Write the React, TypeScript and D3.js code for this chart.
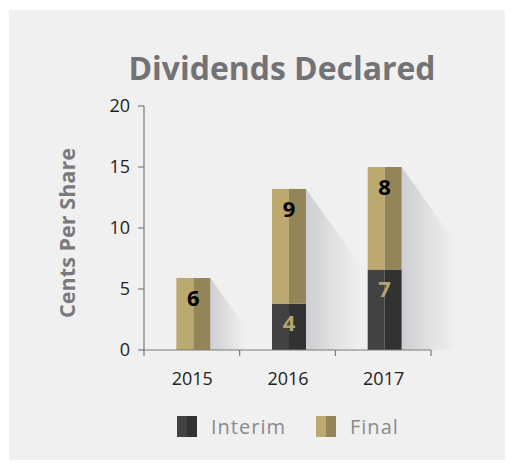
import React, { useRef, useEffect } from 'react';
import * as d3 from 'd3';

const years = ['2015', '2016', '2017'];
const interim = [0, 3.8, 6.6];
const final = [5.9, 9.4, 8.4];
const yTicks = [0, 5, 10, 15, 20];
const seriesNames = ['Interim', 'Final'];

const colors = {
  Interim: { light: '#424244', dark: '#323232', label: '#b6a46d' },
  Final: { light: '#bca96f', dark: '#948559', label: '#000000' },
};

const App = () => {
  const svgRef = useRef<SVGSVGElement>(null);

  useEffect(() => {
    const W = 514;
    const H = 468;
    const svg = d3.select(svgRef.current).attr('width', W).attr('height', H);
    svg.selectAll('*').remove();

    const bg = '#f0f0f0';
    svg.append('rect').attr('x', 9).attr('y', 10).attr('width', 496).attr('height', 450).attr('fill', bg);

    const defs = svg.append('defs');
    const grad = defs.append('linearGradient').attr('id', 'shadow-grad')
      .attr('x1', '0%').attr('x2', '100%').attr('y1', '0%').attr('y2', '0%');
    grad.append('stop').attr('offset', '0%').attr('stop-color', '#cdced1');
    grad.append('stop').attr('offset', '55%').attr('stop-color', '#e3e3e5');
    grad.append('stop').attr('offset', '100%').attr('stop-color', bg);

    const x = d3.scaleBand().domain(years).range([144, 431]).padding(0);
    const y = d3.scaleLinear().domain([0, 20]).range([350, 106]);
    const barW = x.bandwidth() * 0.355;
    const barX = (yr: string) => (x(yr) as number) + x.bandwidth() / 2 - barW / 2 + 1.5;

    const rows = years.map((yr, i) => ({ year: yr, Interim: interim[i], Final: final[i] }));
    const stacked = d3.stack<any>().keys(seriesNames)(rows);

    const font = "'Open Sans', 'Noto Sans', sans-serif";

    // shadows
    const shadowLen = 56;
    const slope = 1.4;
    rows.forEach((r) => {
      const total = r.Interim + r.Final;
      const x1 = barX(r.year) + barW;
      const top = y(total);
      const y0 = y(0);
      const len = Math.min(shadowLen, (y0 - top) * 0.5);
      const endY = top + len * slope;
      const pts = [[x1, top], [x1 + len, endY], [x1 + len, y0], [x1, y0]];
      svg.append('polygon')
        .attr('points', pts.map((p) => p.join(',')).join(' '))
        .attr('fill', 'url(#shadow-grad)');
    });

    // bars
    stacked.forEach((s) => {
      const c = (colors as any)[s.key];
      s.forEach((d: any) => {
        if (d[1] - d[0] <= 0) return;
        const bx = barX(d.data.year);
        const yt = y(d[1]);
        const h = y(d[0]) - y(d[1]);
        svg.append('rect').attr('x', bx).attr('y', yt).attr('width', barW / 2).attr('height', h).attr('fill', c.light);
        svg.append('rect').attr('x', bx + barW / 2).attr('y', yt).attr('width', barW / 2).attr('height', h).attr('fill', c.dark);
        svg.append('text')
          .attr('x', bx + barW / 2)
          .attr('y', yt + 20)
          .attr('dy', '0.35em')
          .attr('text-anchor', 'middle')
          .style('font-family', font)
          .style('font-weight', 'bold')
          .style('font-size', '22px')
          .style('fill', c.label)
          .text(d3.format('.0f')(d[1] - d[0]));
      });
    });

    // y axis
    const axisColor = '#7a7a7a';
    svg.append('line').attr('x1', 144).attr('x2', 144).attr('y1', y(20)).attr('y2', y(0))
      .attr('stroke', axisColor).attr('stroke-width', 1.2);
    yTicks.forEach((t) => {
      svg.append('line').attr('x1', 138).attr('x2', 144).attr('y1', y(t)).attr('y2', y(t))
        .attr('stroke', axisColor).attr('stroke-width', 1.2);
      svg.append('text')
        .attr('x', 130).attr('y', y(t)).attr('dy', '0.35em')
        .attr('text-anchor', 'end')
        .style('font-family', font).style('font-size', '18px').style('fill', '#222')
        .text(t);
    });

    // x axis
    svg.append('line').attr('x1', 143).attr('x2', 431).attr('y1', y(0)).attr('y2', y(0))
      .attr('stroke', axisColor).attr('stroke-width', 1.2);
    const bounds = [...years.map((yr) => x(yr) as number), 431];
    bounds.forEach((b) => {
      svg.append('line').attr('x1', b).attr('x2', b).attr('y1', y(0)).attr('y2', y(0) + 6)
        .attr('stroke', axisColor).attr('stroke-width', 1.2);
    });
    years.forEach((yr) => {
      svg.append('text')
        .attr('x', (x(yr) as number) + x.bandwidth() / 2 + 0.5)
        .attr('y', 379).attr('dy', '0.35em')
        .attr('text-anchor', 'middle')
        .style('font-family', font).style('font-size', '18px').style('fill', '#222')
        .text(yr);
    });

    // title
    svg.append('text')
      .attr('x', 282).attr('y', 80)
      .attr('text-anchor', 'middle')
      .style('font-family', font).style('font-weight', 'bold').style('font-size', '32px')
      .style('fill', '#737375')
      .attr('textLength', 307).attr('lengthAdjust', 'spacingAndGlyphs')
      .text('Dividends Declared');

    // y label
    svg.append('text')
      .attr('transform', `translate(75, ${(148 + 318) / 2}) rotate(-90)`)
      .attr('text-anchor', 'middle')
      .style('font-family', font).style('font-weight', 'bold').style('font-size', '22px')
      .style('fill', '#7a7a7c')
      .attr('textLength', 170).attr('lengthAdjust', 'spacingAndGlyphs')
      .text('Cents Per Share');

    // legend
    const legendX = [177, 316];
    seriesNames.forEach((name, i) => {
      const c = (colors as any)[name];
      const lx = legendX[i];
      svg.append('rect').attr('x', lx).attr('y', 416).attr('width', 10).attr('height', 21).attr('fill', c.light);
      svg.append('rect').attr('x', lx + 10).attr('y', 416).attr('width', 10).attr('height', 21).attr('fill', c.dark);
      svg.append('text')
        .attr('x', lx + 34).attr('y', 427).attr('dy', '0.35em')
        .style('font-family', font).style('font-size', '20px').style('fill', '#8a8a8c')
        .style('letter-spacing', '1px')
        .text(name);
    });
  }, []);

  return (
    <svg ref={svgRef} style={{ position: 'absolute', left: 0, top: 0, display: 'block' }}></svg>
  );
};

export default App;
